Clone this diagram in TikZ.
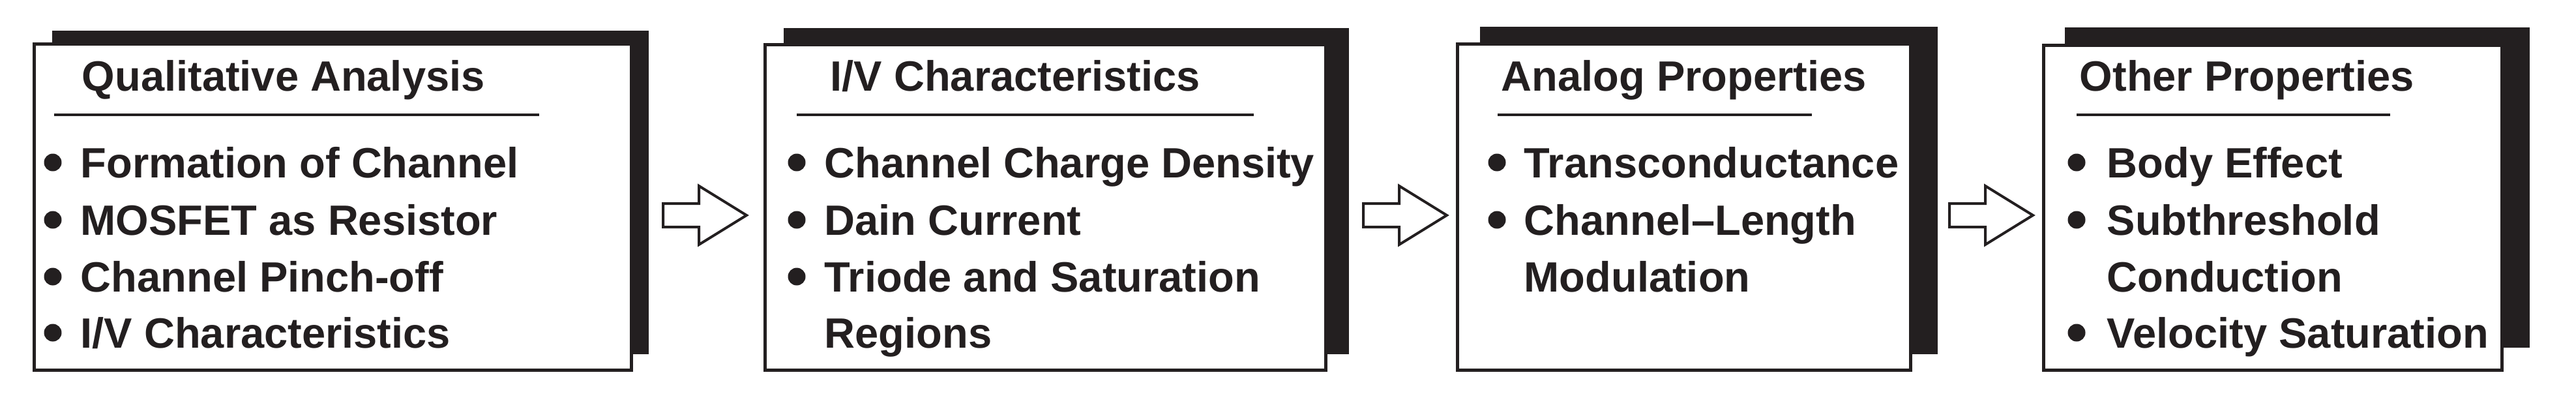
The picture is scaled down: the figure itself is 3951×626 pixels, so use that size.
\documentclass[tikz,border=0pt]{standalone}
\usepackage{fontspec}
\setmainfont{Liberation Sans}
\definecolor{ink}{RGB}{35,31,32}
\begin{document}
\begin{tikzpicture}[x=0.25pt,y=-0.25pt,
  shadowbox/.style={fill=ink},
  frontbox/.style={draw=ink, fill=white, line width=1.25pt},
  rulel/.style={draw=ink, line width=1pt},
  blockarrow/.style={draw=ink, fill=white, line width=1pt, line join=miter},
  txt/.style={anchor=base west, inner sep=0pt, font=\fontsize{16.25}{20}\selectfont\bfseries, text=ink},
  dotb/.style={circle, fill=ink, inner sep=0pt, minimum size=6.75pt}]
\useasboundingbox (0,0) rectangle (3951,626);

% ---------- Box 1 ----------
\fill[shadowbox] (80,47) rectangle (995,543);
\draw[frontbox] (52.5,67.5) rectangle (968,567.5);
\node[txt] (t1) at (125,139) {Qualitative Analysis};
\draw[rulel] (83,176) -- (827,176);
\node[dotb] (b11) at (81,249) {};
\node[txt] (i11) at (123,272) {Formation of Channel};
\node[dotb] (b12) at (81,337) {};
\node[txt] (i12) at (123,360) {MOSFET as Resistor};
\node[dotb] (b13) at (81,424) {};
\node[txt] (i13) at (123,447) {Channel Pinch-off};
\node[dotb] (b14) at (81,510) {};
\node[txt] (i14) at (123,533) {I/V Characteristics};

% ---------- Box 2 ----------
\fill[shadowbox] (1202,43) rectangle (2069,543);
\draw[frontbox] (1173,68.5) rectangle (2033,567.5);
\node[txt] (t2) at (1273,139) {I/V Characteristics};
\draw[rulel] (1222,176) -- (1923,176);
\node[dotb] (b21) at (1222,249) {};
\node[txt] (i21) at (1264,272) {Channel Charge Density};
\node[dotb] (b22) at (1222,337) {};
\node[txt] (i22) at (1264,360) {Dain Current};
\node[dotb] (b23) at (1222,424) {};
\node[txt] (i23) at (1264,447) {Triode and Saturation};
\node[txt] (i24) at (1264,533) {Regions};

% ---------- Box 3 ----------
\fill[shadowbox] (2270,41) rectangle (2972,543);
\draw[frontbox] (2235,67.5) rectangle (2930,567);
\node[txt] (t3) at (2302,139) {Analog Properties};
\draw[rulel] (2297,176) -- (2779,176);
\node[dotb] (b31) at (2296,249) {};
\node[txt] (i31) at (2337,272) {Transconductance};
\node[dotb] (b32) at (2296,337) {};
\node[txt] (i32) at (2337,360) {Channel–Length};
\node[txt] (i33) at (2337,447) {Modulation};

% ---------- Box 4 ----------
\fill[shadowbox] (3167,42) rectangle (3880,533);
\draw[frontbox] (3134,69) rectangle (3837,567);
\node[txt] (t4) at (3189,139) {Other Properties};
\draw[rulel] (3185,176) -- (3666,176);
\node[dotb] (b41) at (3185,249) {};
\node[txt] (i41) at (3231,272) {Body Effect};
\node[dotb] (b42) at (3185,337) {};
\node[txt] (i42) at (3231,360) {Subthreshold};
\node[txt] (i43) at (3231,447) {Conduction};
\node[dotb] (b44) at (3185,510) {};
\node[txt] (i44) at (3231,533) {Velocity Saturation};

% ---------- Block arrows ----------
\coordinate (a1) at (1017,330);
\coordinate (a2) at (2091,330);
\coordinate (a3) at (2990,330);
\foreach \a in {a1,a2,a3}{
  \draw[blockarrow] (\a) ++(0,-18) -- ++(55,0) -- ++(0,-27) -- ++(73,45)
    -- ++(-73,45) -- ++(0,-27) -- ++(-55,0) -- cycle;
}
\end{tikzpicture}
\end{document}
